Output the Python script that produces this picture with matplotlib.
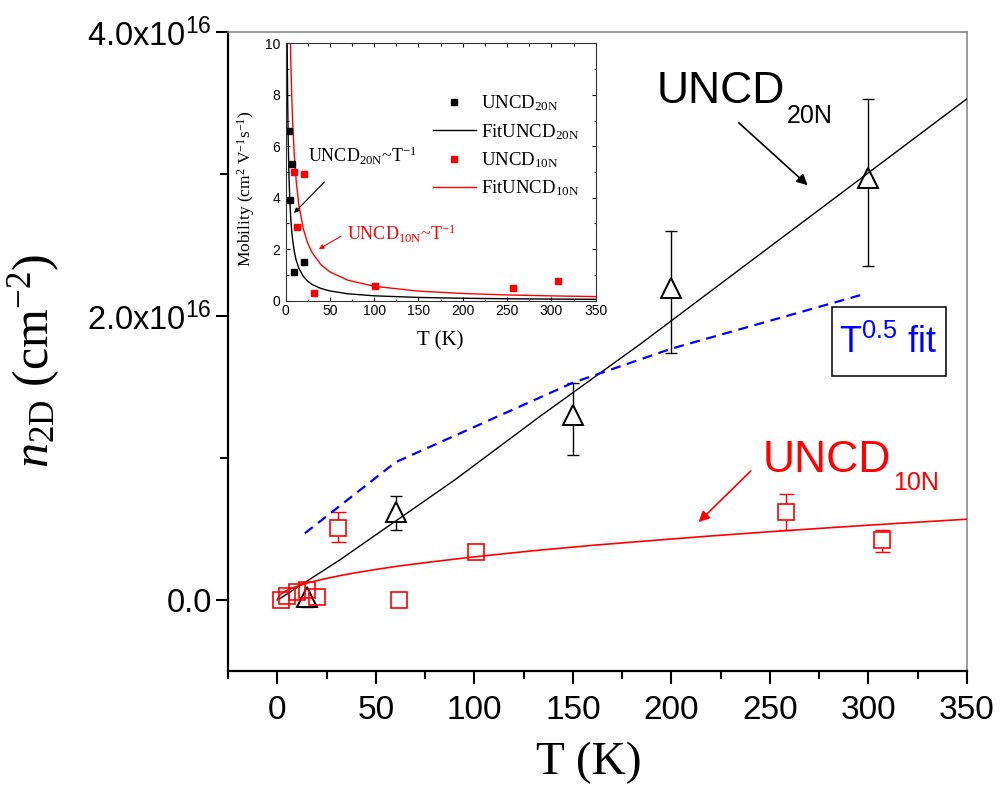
import numpy as np
import matplotlib
matplotlib.use('Agg')
import matplotlib.pyplot as plt
from matplotlib.ticker import FixedLocator, FixedFormatter, MultipleLocator
from matplotlib.lines import Line2D
from matplotlib.patches import Rectangle

plt.rcParams.update({
    'font.family': ['Liberation Sans', 'DejaVu Sans'],
    'mathtext.fontset': 'custom',
    'mathtext.rm': 'Liberation Serif',
    'mathtext.it': 'Liberation Serif:italic',
    'mathtext.default': 'regular',
})
SANS = ['Liberation Sans', 'DejaVu Sans']
SERIF = ['Liberation Serif', 'DejaVu Serif']

# ---------------- main panel data (n_2D in units of 1e16 cm^-2) ----------------
T_20N = [15, 60, 150, 200, 300]
n_20N = [0.02, 0.62, 1.30, 2.20, 2.97]
n_20N_err_lo = [0.07, 0.13, 0.28, 0.46, 0.62]
n_20N_err_hi = [0.07, 0.11, 0.23, 0.40, 0.56]

T_10N = [2, 5, 10, 15, 20, 31, 62, 101, 258, 307]
n_10N = [0.00, 0.03, 0.055, 0.07, 0.02, 0.51, 0.00, 0.34, 0.62, 0.42]
n_10N_err_lo = [0.02, 0.02, 0.02, 0.02, 0.02, 0.10, 0.02, 0.03, 0.13, 0.085]
n_10N_err_hi = [0.02, 0.02, 0.02, 0.02, 0.02, 0.11, 0.02, 0.03, 0.13, 0.07]

T_fit20 = [1, 31.5, 90, 133, 160, 184, 350]
n_fit20 = [0.007, 0.28, 0.845, 1.29, 1.56, 1.80, 3.53]

T_fit10 = [0, 1, 2, 4, 6, 9, 12, 16, 20, 26, 33, 40, 50, 60, 75, 100, 130, 160, 184, 220, 250, 300, 350]
n_fit10 = [0.0, 0.030, 0.043, 0.061, 0.075, 0.091, 0.105, 0.122, 0.136, 0.155, 0.175, 0.192,
           0.215, 0.236, 0.263, 0.304, 0.347, 0.385, 0.412, 0.451, 0.481, 0.527, 0.569]

T_sqrtfit = [14, 60, 150, 200, 298]
n_sqrtfit = [0.47, 0.97, 1.53, 1.77, 2.155]

x_ticks = [0, 50, 100, 150, 200, 250, 300, 350]
x_minor = [-25, 25, 75, 125, 175, 225, 275, 325]
y_ticks = [0.0, 2.0, 4.0]
y_minor = [1.0, 3.0]
y_tick_labels = ['0.0', '2.0x10$^{16}$', '4.0x10$^{16}$']
UNIT = 1e16

# ---------------- inset data (mobility) ----------------
T_mu20 = [4, 7, 5, 9.5, 21]
mu_20 = [6.6, 5.3, 3.9, 1.13, 1.52]
T_mu10 = [9.5, 21, 13.5, 32.5, 101, 257, 307]
mu_10 = [5.0, 4.92, 2.86, 0.31, 0.59, 0.49, 0.77]

T_mufit20 = [1.8, 2, 2.5, 3, 4, 5, 6, 7, 8, 10, 12, 15, 20, 25, 30, 40, 50, 70, 100,
             150, 200, 250, 300, 350]
mu_fit20 = [10.5, 9.5, 7.6, 6.33, 4.75, 3.8, 3.17, 2.71, 2.38, 1.9, 1.58, 1.27, 0.95, 0.76,
            0.63, 0.475, 0.38, 0.27, 0.19, 0.127, 0.095, 0.076, 0.063, 0.054]
T_mufit10 = [5.3, 5.6, 6, 7, 8, 10, 12, 15, 20, 25, 30, 40, 50, 70, 100, 150, 200, 250, 300, 350]
mu_fit10 = [10.5, 10, 9.3, 8.0, 7.0, 5.6, 4.67, 3.73, 2.8, 2.24, 1.87, 1.4, 1.12, 0.8, 0.56,
            0.373, 0.28, 0.224, 0.187, 0.16]

# ---------------- figure ----------------
W, H = 1002, 793
fig = plt.figure(figsize=(W / 100, H / 100), dpi=100)
ax = fig.add_axes([228 / W, 1 - 671 / H, (967 - 228) / W, (671 - 32) / H])

n20 = np.array(n_20N) * UNIT
n10 = np.array(n_10N) * UNIT

ax.errorbar(T_20N, n20, yerr=[np.array(n_20N_err_lo) * UNIT, np.array(n_20N_err_hi) * UNIT],
            fmt='none', ecolor='black', elinewidth=1.0, capsize=4.3, capthick=1.0, zorder=2)
ax.errorbar(T_10N, n10, yerr=[np.array(n_10N_err_lo) * UNIT, np.array(n_10N_err_hi) * UNIT],
            fmt='none', ecolor='red', elinewidth=1.0, capsize=5.4, capthick=1.0, zorder=2)
ax.plot(T_20N, n20, ls='none', marker='^', ms=14, mfc='white', mec='none', zorder=3)
ax.plot(T_10N, n10, ls='none', marker='s', ms=11.5, mfc='white', mec='none', zorder=3)
ax.plot(T_fit20, np.array(n_fit20) * UNIT, color='black', lw=1.0, zorder=4)
ax.plot(T_fit10, np.array(n_fit10) * UNIT, color='red', lw=1.2, zorder=4)
ax.plot(T_sqrtfit, np.array(n_sqrtfit) * UNIT, color='blue', lw=1.6, dashes=(4.5, 3), zorder=4)
ax.plot(T_20N, n20, ls='none', marker='^', ms=14, mfc='none', mec='black', mew=1.4, zorder=5)
ax.plot(T_10N, n10, ls='none', marker='s', ms=11.5, mfc='none', mec='red', mew=1.2, zorder=5)

ax.set_xlim(-25, 350)
ax.set_ylim(-0.5 * UNIT, 4.0 * UNIT)
ax.xaxis.set_major_locator(FixedLocator(x_ticks))
ax.xaxis.set_minor_locator(FixedLocator(x_minor))
ax.yaxis.set_major_locator(FixedLocator([v * UNIT for v in y_ticks]))
ax.yaxis.set_minor_locator(FixedLocator([v * UNIT for v in y_minor]))
ax.yaxis.set_major_formatter(FixedFormatter(y_tick_labels))
ax.tick_params(which='both', direction='out', top=False, right=False, width=1.5, colors='black')
ax.tick_params(which='major', length=9)
ax.tick_params(which='minor', length=5.5)
ax.tick_params(axis='x', which='major', labelsize=24, pad=8)
ax.tick_params(axis='y', which='major', labelsize=23.5, pad=2.5)
for s in ['left', 'bottom']:
    ax.spines[s].set_linewidth(1.6)
    ax.spines[s].set_color('black')
for s in ['top', 'right']:
    ax.spines[s].set_linewidth(1.1)
    ax.spines[s].set_color('#808080')

ax.set_xlabel('T (K)', fontsize=34, family=SERIF, va='top')
ax.xaxis.set_label_coords(0.488, -0.11)
ax.set_ylabel(r'$\mathit{n}_{2D}$ (cm$^{-2}$)', fontsize=36, family=SERIF)
ax.yaxis.set_label_coords(-0.225, 0.485)

# annotations
ax.text(192.5, 3.5 * UNIT, 'UNCD', fontsize=32, color='black', ha='left', va='baseline')
ax.text(258.6, 3.36 * UNIT, '20N', fontsize=18, color='black', ha='left', va='baseline')
ax.annotate('', xy=(270.2, 2.908 * UNIT), xytext=(233.2, 3.373 * UNIT),
            arrowprops=dict(arrowstyle='-|>', color='black', lw=1.2, mutation_scale=16))
ax.text(246.4, 0.90 * UNIT, 'UNCD', fontsize=32, color='red', ha='left', va='baseline')
ax.text(312.5, 0.775 * UNIT, '10N', fontsize=18, color='red', ha='left', va='baseline')
ax.annotate('', xy=(212.8, 0.535 * UNIT), xytext=(241.3, 0.9225 * UNIT),
            arrowprops=dict(arrowstyle='-|>', color='red', lw=1.2, mutation_scale=16))
ax.add_patch(Rectangle((0.8173, 0.4617), 0.1543, 0.1079, transform=ax.transAxes,
                       fc='white', ec='black', lw=1.1, zorder=6))
ax.text(0.894, 0.513, 'T$^{0.5}$ fit', transform=ax.transAxes, fontsize=26, color='blue',
        ha='center', va='center', zorder=7)

# ---------------- inset ----------------
axi = fig.add_axes([285.5 / W, 1 - 300.7 / H, (595.7 - 285.5) / W, (300.7 - 43.3) / H])
axi.set_zorder(10)
axi.set_facecolor('white')
axi.plot(T_mufit20, mu_fit20, color='black', lw=1.0)
axi.plot(T_mufit10, mu_fit10, color='red', lw=1.0)
axi.plot(T_mu20, mu_20, ls='none', marker='s', ms=4, color='black')
axi.plot(T_mu10, mu_10, ls='none', marker='s', ms=4, color='red')
axi.set_xlim(0, 350)
axi.set_ylim(0, 10)
axi.xaxis.set_major_locator(MultipleLocator(50))
axi.xaxis.set_minor_locator(MultipleLocator(25))
axi.yaxis.set_major_locator(MultipleLocator(2))
axi.yaxis.set_minor_locator(MultipleLocator(1))
axi.tick_params(which='both', direction='in', top=True, right=True, width=0.8, labelsize=10)
axi.tick_params(which='major', length=3)
axi.tick_params(which='minor', length=1.8)
axi.tick_params(axis='x', pad=2.5)
axi.tick_params(axis='y', pad=4)
for s in axi.spines.values():
    s.set_linewidth(0.8)
    s.set_color('#333333')
axi.set_xlabel('T (K)', fontsize=15, family=SERIF, va='top')
axi.xaxis.set_label_coords(0.5, -0.12)
axi.set_ylabel('Mobility (cm$^2$ V$^{-1}$s$^{-1}$)', fontsize=12.5, family=SERIF)
axi.yaxis.set_label_coords(-0.093, 0.434)

axi.text(25.9, 5.39, 'UNCD$_{20N}$~T$^{-1}$', fontsize=13, family=SERIF, color='black',
         ha='left', va='baseline')
axi.annotate('', xy=(7.5, 3.33), xytext=(46.1, 4.69),
             arrowprops=dict(arrowstyle='-|>', color='black', lw=0.8, mutation_scale=7))
axi.text(69.8, 2.36, 'UNCD$_{10N}$~T$^{-1}$', fontsize=13, family=SERIF, color='red',
         ha='left', va='baseline')
axi.annotate('', xy=(34.9, 1.95), xytext=(65.3, 2.56),
             arrowprops=dict(arrowstyle='-|>', color='red', lw=0.8, mutation_scale=7))

h_sq20 = Line2D([], [], ls='none', marker='s', ms=5, color='black')
h_ln20 = Line2D([], [], color='black', lw=1.0)
h_sq10 = Line2D([], [], ls='none', marker='s', ms=5, color='red')
h_ln10 = Line2D([], [], color='red', lw=1.0)
axi.legend([h_sq20, h_ln20, h_sq10, h_ln10],
           ['UNCD$_{20N}$', 'FitUNCD$_{20N}$', 'UNCD$_{10N}$', 'FitUNCD$_{10N}$'],
           loc='upper left', bbox_to_anchor=(0.475, 0.805), frameon=False,
           prop={'family': SERIF, 'size': 13.5}, handlelength=2.3, handletextpad=0.25,
           labelspacing=0.46, borderpad=0, borderaxespad=0)

fig.savefig('out.png', dpi=100, facecolor='white')
